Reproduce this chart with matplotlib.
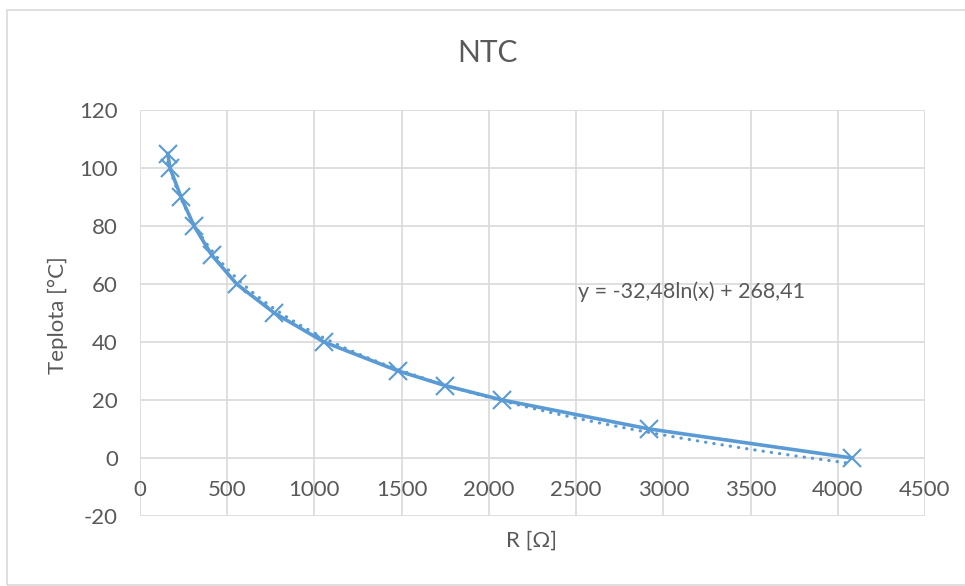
import numpy as np
import matplotlib.pyplot as plt
from matplotlib.patches import Rectangle

# Data
resistance = [159, 172, 235, 310, 411, 554, 770, 1055, 1481, 1748, 2077, 2920, 4083]
temperature = [105, 100, 90, 80, 70, 60, 50, 40, 30, 25, 20, 10, 0]
x_ticks = [0, 500, 1000, 1500, 2000, 2500, 3000, 3500, 4000, 4500]
y_ticks = [-20, 0, 20, 40, 60, 80, 100, 120]
trend_label = "y = -32,48ln(x) + 268,41"

blue = "#5B9BD5"
text_col = "#595959"
grid_col = "#D9D9D9"

plt.rcParams['font.family'] = ['Lato', 'DejaVu Sans']
plt.rcParams['axes.unicode_minus'] = False

fig = plt.figure(figsize=(9.65, 5.86), dpi=100)
ax = fig.add_axes([140 / 965, 1 - 516 / 586, 785 / 965, 406 / 586])

# chart border
fig.patches.append(Rectangle((7 / 965, 1 / 586), 1.0, 1 - 11 / 586, transform=fig.transFigure,
                             fill=False, edgecolor=grid_col, linewidth=1.2))

# logarithmic trendline fitted to the data
a, b = np.polyfit(np.log(resistance), temperature, 1)
xt = np.linspace(min(resistance), max(resistance), 300)
ax.plot(xt, a * np.log(xt) + b, color=blue, linewidth=2.3,
        linestyle=(0, (0.1, 2.5)), dash_capstyle='round', zorder=3)

# measured data
ax.plot(resistance, temperature, color=blue, linewidth=2.6, marker='x',
        markersize=13, markeredgewidth=1.5, zorder=4)

ax.set_xlim(0, 4500)
ax.set_ylim(-20, 120)
ax.set_xticks(x_ticks)
ax.set_yticks(y_ticks)
ax.grid(True, color=grid_col, linewidth=1.2)
ax.set_axisbelow(True)
for s in ['top', 'right', 'left']:
    ax.spines[s].set_visible(False)
ax.spines['bottom'].set_position(('data', 0))
ax.spines['bottom'].set_visible(False)
ax.tick_params(axis='x', length=0, pad=16, labelsize=16, labelcolor=text_col)
ax.tick_params(axis='y', length=0, pad=16, labelsize=16, labelcolor=text_col)

ax.text(578, 288, trend_label, transform=None, fontsize=15.5, color=text_col)
fig.text(487 / 965, 1 - 53 / 586, "NTC", ha='center', va='center', fontsize=21.5, color=text_col)
fig.text(58 / 965, 1 - 315 / 586, "Teplota [°C]", ha='center', va='center',
         rotation=90, fontsize=16, color=text_col)
fig.text(532 / 965, 1 - 541 / 586, "R [Ω]", ha='center', va='center', fontsize=16, color=text_col)

fig.savefig("out.png", dpi=100)
